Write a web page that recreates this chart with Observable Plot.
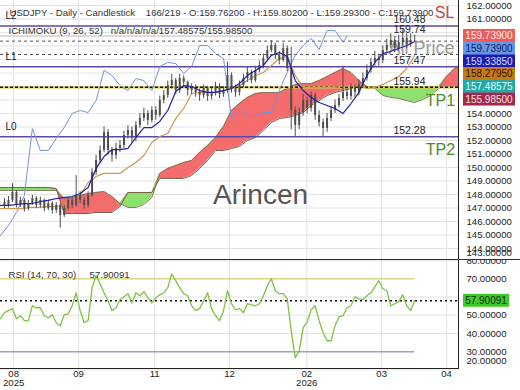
<!DOCTYPE html>
<html><head><meta charset="utf-8">
<script src="https://cdn.jsdelivr.net/npm/d3@7"></script>
<script src="https://cdn.jsdelivr.net/npm/@observablehq/plot@0.6"></script>
<style>
body{margin:0;background:#fff;}
#wrap{position:relative;width:520px;height:390px;overflow:hidden;background:#fff;}
#wrap svg{display:block;}
#sep{position:absolute;left:0;top:259px;width:520px;height:1px;background:#333;}
</style></head><body><div id="wrap"></div>
<script>
// ---------- data ----------
const candleBar = d3.range(1, 105);
const open = [147.40,147.19,147.56,148.15,147.19,147.56,146.96,147.33,147.70,147.19,
147.56,146.96,147.33,146.81,147.19,146.44,146.96,147.56,147.19,147.93,
147.56,147.19,147.93,149.63,150.52,151.26,152.59,151.26,150.89,151.41,
151.63,152.37,152.74,152.15,153.11,153.63,154.00,153.48,154.22,153.85,
154.96,155.33,156.07,156.44,155.70,156.59,156.30,155.70,155.85,155.56,
155.33,155.85,155.26,155.56,156.00,155.41,155.70,156.81,155.85,155.56,
156.07,156.59,157.04,156.44,157.19,157.56,158.07,158.67,159.04,158.30,
157.93,158.81,157.33,154.22,153.11,154.07,154.96,154.37,155.33,153.85,
153.33,152.89,153.63,154.22,154.59,155.11,155.56,155.26,155.85,155.56,
156.15,156.59,157.19,157.78,158.07,157.93,158.67,159.04,159.41,158.81,
159.26,159.56,159.11,159.762];
const high = [147.70,147.85,148.80,148.30,147.80,147.70,147.55,147.95,147.85,147.80,
147.65,147.60,147.45,147.40,147.30,147.20,147.75,147.70,149.40,148.20,
147.80,148.20,149.90,150.90,151.60,153.00,152.80,151.50,151.80,152.00,
152.70,153.10,153.00,153.40,154.00,154.40,154.20,154.50,154.50,155.30,
155.70,156.40,156.90,156.60,156.90,156.80,156.40,156.20,156.10,155.80,
156.10,156.00,155.90,156.30,156.20,156.00,157.80,157.00,156.10,156.40,
156.90,157.40,157.20,157.50,157.90,158.40,159.00,159.40,159.20,158.60,
159.20,159.00,158.90,154.50,154.40,155.40,155.20,155.60,155.50,154.20,
153.60,154.00,154.50,155.00,155.40,157.50,155.90,156.20,156.10,156.50,
157.00,157.60,158.10,158.60,158.40,159.00,159.50,159.90,159.70,159.80,
160.20,159.90,159.90,159.802];
const low = [146.95,147.00,147.40,147.00,147.05,146.70,146.80,147.20,146.95,147.00,
146.70,146.80,146.55,146.60,145.50,146.30,146.80,146.95,147.05,147.30,
146.90,147.00,147.80,149.40,150.30,151.10,150.90,150.40,150.60,151.10,
151.40,152.10,151.80,151.90,152.90,153.40,153.10,153.30,153.50,153.70,
154.70,155.10,155.80,155.40,155.50,155.90,155.30,155.40,155.20,154.90,
155.10,154.90,155.00,155.30,155.10,155.20,155.50,155.50,155.20,155.30,
155.90,156.30,156.20,156.30,157.00,157.30,157.90,158.50,158.00,157.60,
157.80,157.10,152.80,152.30,152.80,153.80,154.00,154.10,153.50,153.00,
152.30,152.60,153.40,154.00,154.40,154.90,155.00,155.00,155.20,155.30,
155.90,156.40,157.00,157.50,157.50,157.70,158.40,158.80,158.50,158.60,
159.00,158.80,158.90,159.293];
const close = [147.19,147.56,148.15,147.19,147.56,146.96,147.33,147.70,147.19,147.56,
146.96,147.33,146.81,147.19,146.44,146.96,147.56,147.19,147.93,147.56,
147.19,147.93,149.63,150.52,151.26,152.59,151.26,150.89,151.41,151.63,
152.37,152.74,152.15,153.11,153.63,154.00,153.48,154.22,153.85,154.96,
155.33,156.07,156.44,155.70,156.59,156.30,155.70,155.85,155.56,155.33,
155.85,155.26,155.56,156.00,155.41,155.70,156.81,155.85,155.56,156.07,
156.59,157.04,156.44,157.19,157.56,158.07,158.67,159.04,158.30,157.93,
158.81,157.33,154.22,153.11,154.07,154.96,154.37,155.33,153.85,153.33,
152.89,153.63,154.22,154.59,155.11,155.56,155.26,155.85,155.56,156.15,
156.59,157.19,157.78,158.07,157.93,158.67,159.04,159.41,158.81,159.26,
159.56,159.11,159.41,159.739];

const lineBar = d3.range(0, 105, 2);
const tenkan = [147.19,147.19,147.26,147.33,147.33,147.48,147.56,147.70,147.78,147.85,
148.07,148.52,149.93,150.81,151.33,151.33,151.41,152.22,152.96,152.96,
153.41,154.22,155.63,156.07,156.00,155.70,155.56,155.56,155.70,155.85,
156.22,156.81,157.19,157.56,158.30,158.52,158.22,156.44,155.70,155.19,
154.81,154.59,154.37,154.00,154.74,155.56,156.81,157.78,158.44,158.59,
158.81,159.04,159.3385];
const kijun = [146.96,146.96,146.96,146.96,147.04,147.04,147.11,147.11,147.26,147.56,
147.93,148.89,149.33,149.56,149.56,149.56,150.00,150.37,150.89,151.85,
152.30,152.52,153.63,154.37,155.48,155.56,155.56,155.56,155.70,155.85,
156.07,156.44,156.81,157.04,157.56,158.07,158.22,156.81,155.93,155.93,
155.93,155.93,155.93,156.00,156.07,156.07,155.85,155.93,156.15,156.44,
156.74,157.33,158.2795];

const chikouBar = [...d3.range(0, 87, 2), 87];
const chikou = [144.96,145.70,146.67,147.93,152.89,151.26,151.26,152.15,152.96,154.00,
154.22,154.07,154.96,157.19,156.81,156.07,155.70,156.59,156.44,155.70,
157.48,157.78,157.70,156.96,157.48,159.04,159.04,158.44,158.07,153.70,
154.37,153.85,153.85,154.07,154.07,155.70,157.04,158.30,159.04,159.56,
158.74,160.15,160.15,159.26,159.739];

const cloudBar = [...d3.range(0, 115, 2), 115];
const spanA = [148.30,148.30,148.30,148.30,148.30,148.30,148.30,148.30,
147.70,147.78,147.93,148.07,148.15,148.22,147.85,147.33,
147.04,147.04,147.26,147.78,149.56,149.93,150.15,150.37,
150.52,151.11,151.63,152.22,153.04,154.22,154.74,155.19,
155.48,155.56,155.56,155.56,155.85,156.15,156.22,156.22,
156.44,156.74,157.04,157.33,157.04,156.44,156.00,155.85,
155.33,155.19,155.11,154.96,154.81,155.04,155.33,155.85,
156.74,157.33,157.48575];
const spanB = [148.52,148.52,148.52,148.52,148.52,148.52,148.52,148.44,
146.59,146.59,146.59,146.59,146.67,146.67,146.67,147.11,
148.15,148.15,148.15,148.15,149.19,149.19,149.19,149.19,
149.41,149.93,150.52,151.26,151.26,151.41,151.56,152.00,
152.22,152.74,153.33,153.63,153.70,153.85,154.07,154.59,
154.96,155.33,155.56,155.70,155.85,155.98,155.98,155.98,
155.98,155.98,155.98,155.98,155.98,155.98,155.98,155.98,
155.98,155.98,155.985];

const rsiBar = d3.range(0, 105);
const rsi = [48.1,51.4,52.5,53.6,48.1,49.7,47.0,47.0,55.2,54.1,
54.1,49.7,48.6,50.3,45.9,44.2,50.3,50.8,55.2,62.3,
52.5,45.9,47.0,65.1,71.6,67.3,62.3,57.9,52.5,54.1,
58.5,60.1,61.8,56.8,62.3,60.7,62.9,59.6,56.8,59.6,
61.2,62.3,65.1,72.7,68.9,65.1,61.8,60.7,55.2,52.5,
53.6,57.9,62.3,53.6,49.7,47.0,52.5,63.4,56.3,53.0,
53.6,51.4,56.3,55.7,55.2,56.3,60.7,66.2,70.0,63.4,
61.8,61.8,59.0,41.5,26.7,30.5,43.2,46.4,53.0,55.2,
47.0,40.4,36.0,36.0,44.2,49.2,49.7,54.1,55.2,60.1,
59.0,58.5,60.7,62.3,65.6,68.9,64.5,63.4,55.2,56.3,
57.3,61.2,55.2,52.5,57.90091];

const monthBar = [3.3, 19.6, 38.7, 57.5, 76.9, 95.7, 112];
const monthLabel = ["08","09","11","12","02","03","04"];
const yearBar = [3.3, 76.9];
const yearLabel = ["2025", "2026"];

const priceTicks = [144,145,146,147,148,149,150,151,152,153,154,160,161,162];
const priceGrid = d3.range(144, 163);
const rsiTicks = [30, 40, 50, 60, 70, 80];
const rsiGrid = [20, 40, 50, 60, 80];

const levelValues = [160.48, 159.74, 157.47, 155.94, 152.28];
const purpleLevels = [160.48, 157.47, 152.28];
const purpleNames = ["L2", "L1", "L0"];
const dashedLevels = [159.36, 158.37];
const lastPrice = 159.739;
const slValue = [160.48];
const tpValues = [155.94, 152.28];
const tpNames = ["TP1", "TP2"];

const boxValues = [159.739, 159.739, 159.3385, 158.2795, 157.48575, 155.985];
const boxBg = ["#ef5b5b", "#6797e4", "#1c1cb2", "#c97b12", "#1fa9a9", "#a0284b"];
const boxFg = ["#fff0f0", "#0d1d5c", "#d8dcff", "#2a1600", "#eaffff", "#ffe2e8"];
const rsiLast = 57.90091;

const headerText = "USDJPY - Daily - Candlestick\u00a0\u00a0\u00a0\u00a0166/219 - O:159.76200 - H:159.80200 - L:159.29300 - C:159.73900";
const ichText = "ICHIMOKU (9, 26, 52)\u00a0\u00a0\u00a0n/a/n/a/n/a/157.48575/155.98500";
const rsiText = "RSI (14, 70, 30)\u00a0\u00a0\u00a0\u00a0\u00a057.90091";

// ---------- build ----------
const XMAX = 115;
const font = "Liberation Sans, Arial, sans-serif";
const candles = candleBar.map((b, k) => ({b, o: open[k], h: high[k], l: low[k], c: close[k]}));
const ich = lineBar.map((b, k) => ({b, t: tenkan[k], k: kijun[k]}));
const chik = chikouBar.map((b, k) => ({b, v: chikou[k]}));
const cloud = cloudBar.map((b, k) => ({b, a: spanA[k], s: spanB[k]}));
const rsiData = rsiBar.map((b, k) => ({b, v: rsi[k]}));
const monthMap = new Map(monthBar.map((m, i) => [m, monthLabel[i]]));
const yearMap = new Map(yearBar.map((m, i) => [m, yearLabel[i]]));

function sideBoxes(vals, bgs, fgs, w) {
  return Plot.text(vals, {
    y: d => d, text: d => d.toFixed(5), frameAnchor: "right",
    render(index, scales, values, dims) {
      const g = d3.create("svg:g");
      const x0 = dims.width - dims.marginRight + 5;
      let prev = -Infinity;
      for (const i of index) {
        let y = values.y[i];
        if (y < prev + 12.7) y = prev + 12.7;
        prev = y;
        g.append("rect").attr("x", x0).attr("y", y - 6.5).attr("width", w).attr("height", 13).attr("fill", bgs[i]);
        g.append("text").attr("x", x0 + w / 2).attr("y", y).attr("dy", "0.36em")
          .attr("text-anchor", "middle").attr("fill", fgs[i]).attr("font-size", 10)
          .attr("font-family", font).text(vals[i].toFixed(5));
      }
      return g.node();
    }
  });
}

const main = Plot.plot({
  width: 520, height: 260, marginLeft: 0, marginRight: 62, marginTop: 0, marginBottom: 0,
  style: {fontFamily: font, fontSize: "10px", overflow: "hidden", background: "#fff"},
  x: {domain: [0, XMAX]},
  y: {domain: [143.11, 162.37]},
  marks: [
    Plot.gridY(priceGrid, {stroke: "#e3e3e3", strokeOpacity: 1}),
    Plot.gridX(monthBar, {stroke: "#e3e3e3", strokeOpacity: 1}),
    Plot.text([{x: 65.3, y: 147.93, t: "Arincen"}], {x: "x", y: "y", text: "t", fontSize: 28, fill: "#555"}),
    Plot.areaY(cloud, {x: "b", y1: "s", y2: d => Math.max(d.a, d.s), fill: "#f35f5f", fillOpacity: 0.92}),
    Plot.areaY(cloud, {x: "b", y1: "a", y2: d => Math.max(d.a, d.s), fill: "#82dd62", fillOpacity: 0.92}),
    Plot.line(cloud, {x: "b", y: "a", stroke: "#7d7a5a", strokeWidth: 1}),
    Plot.line(cloud, {x: "b", y: "s", stroke: "#7a5a4a", strokeWidth: 1}),
    Plot.ruleY(purpleLevels, {stroke: "#5b47a8", strokeWidth: 1.5}),
    Plot.ruleY(dashedLevels, {stroke: "#555", strokeDasharray: "3,3"}),
    Plot.ruleY([155.94], {stroke: "#d8c850", strokeWidth: 2.2}),
    Plot.ruleY([155.94], {stroke: "#111", strokeDasharray: "3,2", strokeWidth: 1.4}),
    Plot.ruleY([lastPrice], {stroke: "#b8b8b8"}),
    Plot.text([lastPrice], {y: d => d, text: () => "All Price", frameAnchor: "right", dx: -4, dy: 12, textAnchor: "end", lineAnchor: "middle", fontSize: 18, fill: "#9a9a9a"}),
    Plot.line(chik, {x: "b", y: "v", stroke: "#7393d8", strokeWidth: 1}),
    Plot.line(ich, {x: "b", y: "k", stroke: "#c99a52", strokeWidth: 1.2}),
    Plot.ruleX(candles, {x: "b", y1: "l", y2: "h", stroke: "#4f4f4f", strokeWidth: 1}),
    Plot.ruleX(candles, {x: "b", y1: "o", y2: "c", stroke: "#4f4f4f", strokeWidth: 2}),
    Plot.line(ich, {x: "b", y: "t", stroke: "#2020a8", strokeWidth: 1.2}),
    Plot.text(levelValues, {y: d => d, text: d => d.toFixed(2), frameAnchor: "right", dx: -49, dy: -6, textAnchor: "middle", lineAnchor: "middle", fontSize: 10.5, fill: "#222"}),
    Plot.text(purpleLevels, {y: d => d, text: (d, i) => purpleNames[i], frameAnchor: "left", dx: 5, dy: -10, textAnchor: "start", lineAnchor: "middle", fontSize: 10, fill: "#222"}),
    Plot.text(slValue, {y: d => d, text: () => "SL", frameAnchor: "right", dx: -14, dy: -13, textAnchor: "middle", lineAnchor: "middle", fontSize: 16, fill: "#c8443f"}),
    Plot.text(tpValues, {y: d => d, text: (d, i) => tpNames[i], frameAnchor: "right", dx: -18, dy: 13.5, textAnchor: "middle", lineAnchor: "middle", fontSize: 16, fill: "#4c8e2c"}),
    Plot.text([headerText], {frameAnchor: "top-left", dx: 9, dy: 12, lineAnchor: "middle", textAnchor: "start", fontSize: 9.6, fill: "#333"}),
    Plot.text([ichText], {frameAnchor: "top-left", dx: 8, dy: 30, lineAnchor: "middle", textAnchor: "start", fontSize: 9.6, fill: "#333"}),
    Plot.axisY(priceTicks, {anchor: "right", tickSize: 0, tickPadding: 8, tickFormat: d3.format(".5f"), fontSize: 9.6, color: "#222", label: null}),
    Plot.text(["143.00000"], {frameAnchor: "bottom-right", dx: 8, dy: -8, textAnchor: "start", lineAnchor: "middle", fontSize: 9.6, fill: "#222"}),
    sideBoxes(boxValues, boxBg, boxFg, 52),
    Plot.ruleX([XMAX], {stroke: "#222"})
  ]
});

const lastR = rsiBar[rsiBar.length - 1];
const rsiPlot = Plot.plot({
  width: 520, height: 130, marginLeft: 0, marginRight: 62, marginTop: 0, marginBottom: 22,
  style: {fontFamily: font, fontSize: "10px", overflow: "hidden", background: "#fff"},
  x: {domain: [0, XMAX]},
  y: {domain: [20.8, 80]},
  marks: [
    Plot.gridY(rsiGrid, {stroke: "#e3e3e3", strokeOpacity: 1}),
    Plot.gridX(monthBar, {stroke: "#e3e3e3", strokeOpacity: 1}),
    Plot.ruleY([70], {x1: 0, x2: lastR, stroke: "#d9d58c", strokeWidth: 1.5}),
    Plot.ruleY([30], {x1: 0, x2: lastR, stroke: "#9d9dd6", strokeWidth: 1.5}),
    Plot.ruleY([rsiLast], {stroke: "#111", strokeDasharray: "2,3", strokeWidth: 1.5}),
    Plot.line(rsiData, {x: "b", y: "v", stroke: "#7fc242", strokeWidth: 1.3}),
    Plot.text([rsiText], {frameAnchor: "top-left", dx: 8, dy: 14, lineAnchor: "middle", textAnchor: "start", fontSize: 9.6, fill: "#333"}),
    Plot.axisY(rsiTicks, {anchor: "right", tickSize: 0, tickPadding: 8, tickFormat: d3.format(".5f"), fontSize: 9.6, color: "#222", label: null}),
    Plot.text(["20.00000"], {frameAnchor: "bottom-right", dx: 8, dy: -8, textAnchor: "start", lineAnchor: "middle", fontSize: 9.6, fill: "#222"}),
    sideBoxes([rsiLast], ["#3fc92f"], ["#0c3306"], 46),
    Plot.ruleX([XMAX], {stroke: "#222"}),
    Plot.frame({anchor: "bottom", stroke: "#222"}),
    Plot.axisX(monthBar, {anchor: "bottom", tickSize: 0, tickPadding: 2, tickFormat: d => monthMap.get(d), fontSize: 9.6, color: "#222", label: null}),
    Plot.axisX(yearBar, {anchor: "bottom", tickSize: 0, tickPadding: 11, tickFormat: d => yearMap.get(d), fontSize: 9.6, color: "#222", label: null})
  ]
});

const wrap = document.getElementById("wrap");
wrap.append(main, rsiPlot);
const sep = document.createElement("div");
sep.id = "sep";
wrap.append(sep);
</script>
</body></html>
